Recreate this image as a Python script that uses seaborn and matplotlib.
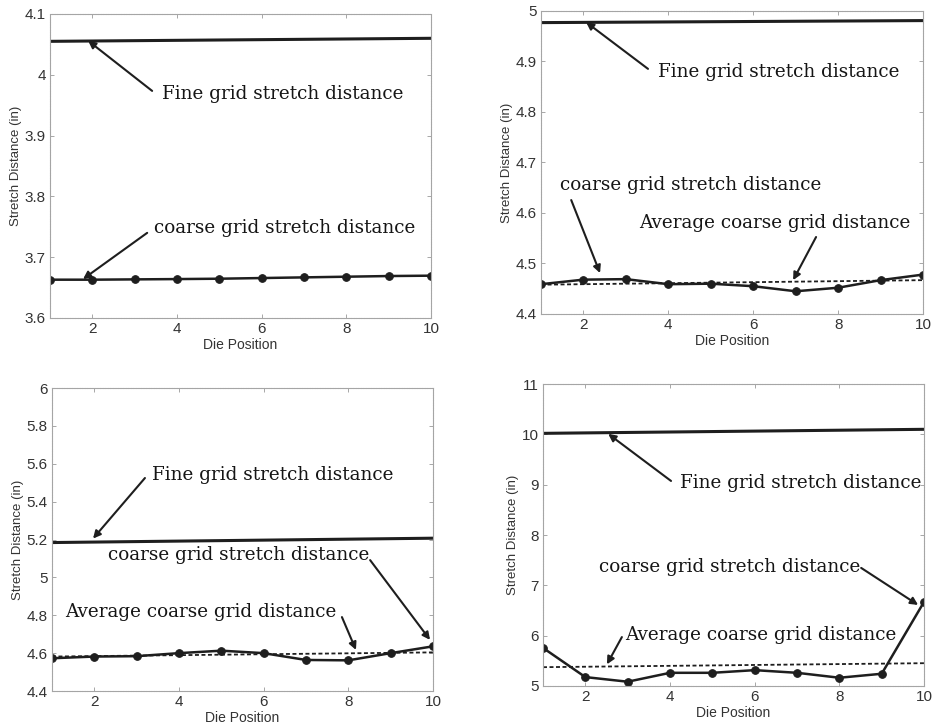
import matplotlib
matplotlib.use("Agg")
import matplotlib.pyplot as plt
import seaborn as sns
import pandas as pd

# Die positions along the part
die_pos = [1, 2, 3, 4, 5, 6, 7, 8, 9, 10]
ends = [1, 10]

# Case 1
coarse_1 = [3.663, 3.663, 3.6635, 3.664, 3.6646, 3.6657, 3.6668, 3.6679, 3.669, 3.6696]
fine_1 = [4.055, 4.060]

# Case 2
coarse_2 = [4.459, 4.468, 4.469, 4.459, 4.460, 4.455, 4.445, 4.452, 4.467, 4.478]
fine_2 = [4.977, 4.981]
avg_2 = [4.458, 4.467]

# Case 3
coarse_3 = [4.573, 4.582, 4.584, 4.600, 4.613, 4.600, 4.564, 4.562, 4.600, 4.636]
fine_3 = [5.184, 5.207]
avg_3 = [4.582, 4.604]

# Case 4
coarse_4 = [5.757, 5.177, 5.085, 5.262, 5.262, 5.315, 5.262, 5.164, 5.243, 6.672]
fine_4 = [10.02, 10.10]
avg_4 = [5.374, 5.453]

yticks_1 = [3.6, 3.7, 3.8, 3.9, 4.0, 4.1]
yticks_2 = [4.4, 4.5, 4.6, 4.7, 4.8, 4.9, 5.0]
yticks_3 = [4.4, 4.6, 4.8, 5.0, 5.2, 5.4, 5.6, 5.8, 6.0]
yticks_4 = [5, 6, 7, 8, 9, 10, 11]
ytl_1 = ["3.6", "3.7", "3.8", "3.9", "4", "4.1"]
ytl_2 = ["4.4", "4.5", "4.6", "4.7", "4.8", "4.9", "5"]
ytl_3 = ["4.4", "4.6", "4.8", "5", "5.2", "5.4", "5.6", "5.8", "6"]
ytl_4 = ["5", "6", "7", "8", "9", "10", "11"]
xticks = [2, 4, 6, 8, 10]

FINE_TXT = "Fine grid stretch distance"
COARSE_TXT = "coarse grid stretch distance"
AVG_TXT = "Average coarse grid distance"

sns.set_style("white")
plt.rcParams["font.family"] = ["Liberation Sans", "DejaVu Sans"]

fig = plt.figure(figsize=(9.33, 7.28), dpi=100)
positions = [
    [0.0536, 0.5632, 0.4084, 0.4176],
    [0.5799, 0.5687, 0.4094, 0.4162],
    [0.0557, 0.0508, 0.4084, 0.4162],
    [0.5820, 0.0577, 0.4084, 0.4148],
]
axes = [fig.add_axes(p) for p in positions]

ink = "#1e1e1e"
serif = dict(family="DejaVu Serif", fontsize=13.2, color="#151515")
arrow = dict(arrowstyle="-|>", color=ink, lw=1.5, mutation_scale=11,
             shrinkA=0, shrinkB=0)


def draw_panel(ax, coarse, fine, avg, ylim, yt, ytl):
    df = pd.DataFrame({"pos": die_pos, "dist": coarse})
    sns.lineplot(data=df, x="pos", y="dist", ax=ax, color=ink, lw=1.8,
                 marker="o", markersize=5.5, markeredgecolor=ink)
    sns.lineplot(x=ends, y=fine, ax=ax, color=ink, lw=2.2)
    if avg is not None:
        sns.lineplot(x=ends, y=avg, ax=ax, color=ink, lw=1.3,
                     linestyle=(0, (2.2, 1.4)))
    ax.set_xlim(1, 10)
    ax.set_ylim(*ylim)
    ax.set_xticks(xticks)
    ax.set_yticks(yt)
    ax.set_yticklabels(ytl)
    ax.tick_params(direction="in", length=3, width=0.6, color="#999999",
                   labelsize=11, labelcolor="#333333", pad=3,
                   top=True, right=True, bottom=True, left=True)
    for s in ax.spines.values():
        s.set_color("#a5a5a5")
        s.set_linewidth(0.8)
        s.set_linestyle((0, (1.5, 0.8)))
    ax.set_xlabel("Die Position", fontsize=10, color="#333333", labelpad=1)
    ax.set_ylabel("Stretch Distance (in)", fontsize=9.5, color="#333333",
                  labelpad=2)


def label(ax, text, txt_xy, tail_xy, head_xy):
    ax.text(txt_xy[0], txt_xy[1], text, transform=ax.transAxes,
            ha="left", va="center", **serif)
    ax.annotate("", xy=head_xy, xycoords="data", xytext=tail_xy,
                textcoords="axes fraction", arrowprops=arrow)


ax1, ax2, ax3, ax4 = axes

draw_panel(ax1, coarse_1, fine_1, None, (3.6, 4.1), yticks_1, ytl_1)
label(ax1, FINE_TXT, (0.294, 0.737), (0.268, 0.747), (1.9, 4.056))
label(ax1, COARSE_TXT, (0.273, 0.296), (0.255, 0.280), (1.78, 3.664))

draw_panel(ax2, coarse_2, fine_2, avg_2, (4.4, 5.0), yticks_2, ytl_2)
label(ax2, FINE_TXT, (0.306, 0.799), (0.280, 0.809), (2.06, 4.978))
label(ax2, COARSE_TXT, (0.050, 0.426), (0.079, 0.376), (2.39, 4.481))
label(ax2, AVG_TXT, (0.257, 0.300), (0.720, 0.254), (6.94, 4.467))

draw_panel(ax3, coarse_3, fine_3, avg_3, (4.4, 6.0), yticks_3, ytl_3)
label(ax3, FINE_TXT, (0.262, 0.713), (0.244, 0.703), (1.97, 5.205))
label(ax3, COARSE_TXT, (0.147, 0.449), (0.835, 0.432), (9.93, 4.67))
label(ax3, AVG_TXT, (0.034, 0.261), (0.761, 0.244), (8.18, 4.617))

draw_panel(ax4, coarse_4, fine_4, avg_4, (5, 11), yticks_4, ytl_4)
label(ax4, FINE_TXT, (0.360, 0.672), (0.336, 0.679), (2.54, 10.01))
label(ax4, COARSE_TXT, (0.147, 0.394), (0.835, 0.391), (9.86, 6.61))
label(ax4, AVG_TXT, (0.215, 0.169), (0.207, 0.162), (2.51, 5.43))

fig.savefig("out.png", dpi=100)
